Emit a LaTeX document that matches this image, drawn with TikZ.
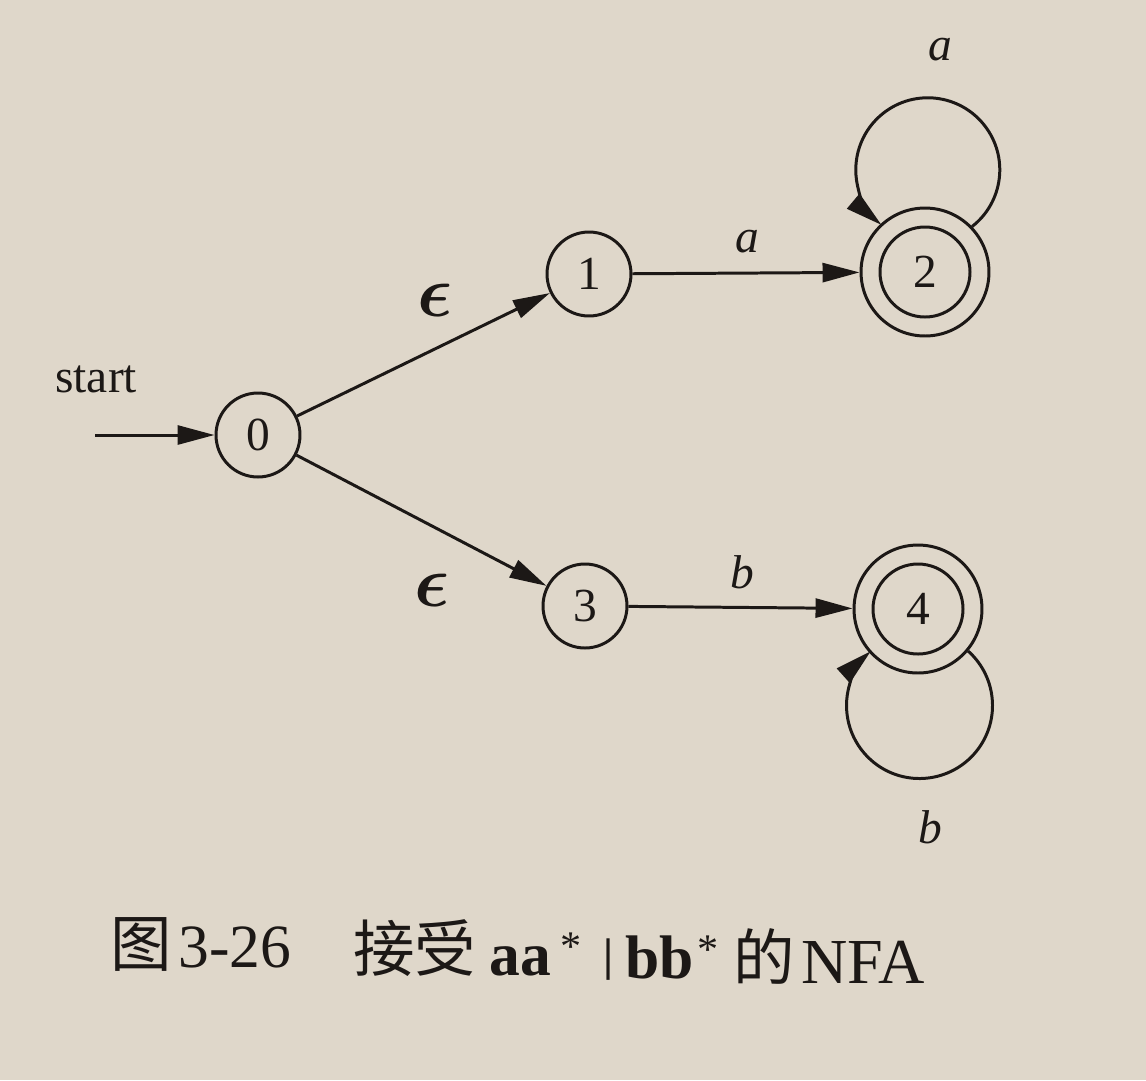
\documentclass[tikz,border=0pt]{standalone}
\usepackage{fontspec}
\usepackage{graphicx}
\setmainfont{Liberation Serif}
\newfontfamily\cjk{Noto Sans CJK SC}
\usetikzlibrary{arrows.meta}
\definecolor{paper}{RGB}{223,215,202}
\definecolor{ink}{RGB}{28,24,22}
\begin{document}
\begin{tikzpicture}[x=0.02cm,y=0.02cm,
  state/.style={circle,draw=ink,line width=1.7pt,minimum size=1.68cm,inner sep=0pt,font=\fontsize{27}{27}\selectfont,text=ink},
  accstate/.style={state,minimum size=2.56cm},
  edge/.style={draw=ink,line width=1.7pt,-{Triangle[length=0.74cm,width=0.38cm]}},
  lab/.style={font=\fontsize{27}{27}\selectfont\itshape,text=ink,inner sep=0pt},
  plainlab/.style={font=\fontsize{27}{27}\selectfont,text=ink,inner sep=0pt},
  eps/.style={font=\fontsize{20}{20}\selectfont\boldmath,text=ink,inner sep=0pt},
  captext/.style={font=\fontsize{35}{35}\selectfont,text=ink,inner sep=0pt,anchor=base west},
  capnfa/.style={captext,font=\fontsize{36.5}{36.5}\selectfont},
  capsmall/.style={captext,font=\fontsize{24}{24}\selectfont},
  capbar/.style={captext,font=\fontsize{26}{26}\selectfont\bfseries},
]
\fill[paper] (0,0) rectangle (1146,-1080);
\useasboundingbox (0,0) rectangle (1146,-1080);

% states
\node[state] (q0) at (258,-435) {0};
\node[state] (q1) at (589,-274) {1};
\node[accstate] (q2) at (925,-272) {2};
\node[state] (q3) at (585,-606) {3};
\node[accstate] (q4) at (918,-609) {4};
\draw[ink,line width=1.7pt] (q2.center) circle[radius=45];
\draw[ink,line width=1.7pt] (q4.center) circle[radius=45];

% start
\node[plainlab,anchor=base west] (start) at (55,-392) {start};
\coordinate (st) at (95,-435);
\draw[edge] (st) -- (q0);

% transitions
\draw[edge] (q0) -- (q1);
\draw[edge] (q0) -- (q3);
\draw[edge] (q1) -- (q2);
\draw[edge] (q3) -- (q4);
\draw[edge] (q2.44) arc[start angle=-52,end angle=230,radius=72];
\draw[edge] (q4.-40.6) arc[start angle=48.2,end angle=-228.2,radius=73];

% labels
\node[eps] (e1) at (435,-300) {\scalebox{2}{$\epsilon$}};
\node[eps] (e2) at (432,-590) {\scalebox{2}{$\epsilon$}};
\node[lab] (la1) at (747,-242) {a};
\node[lab] (lb1) at (742,-572) {b};
\node[lab] (la2) at (940,-50) {a};
\node[lab] (lb2) at (930,-827) {b};

% caption
\node[captext] (c1) at (110,-966) {\cjk 图};
\node[captext] (c2) at (178,-967) {3-26};
\node[captext] (c3) at (353,-971) {\cjk 接受};
\node[captext] (c4) at (489,-975) {\bfseries aa};
\node[capsmall] (c5) at (560,-960) {*};
\node[capbar] (c6) at (603,-970) {|};
\node[captext] (c7) at (625,-978) {\bfseries bb};
\node[capsmall] (c8) at (697,-963) {*};
\node[captext] (c9) at (733,-980) {\cjk 的};
\node[capnfa] (c10) at (801,-983) {NFA};
\end{tikzpicture}
\end{document}
